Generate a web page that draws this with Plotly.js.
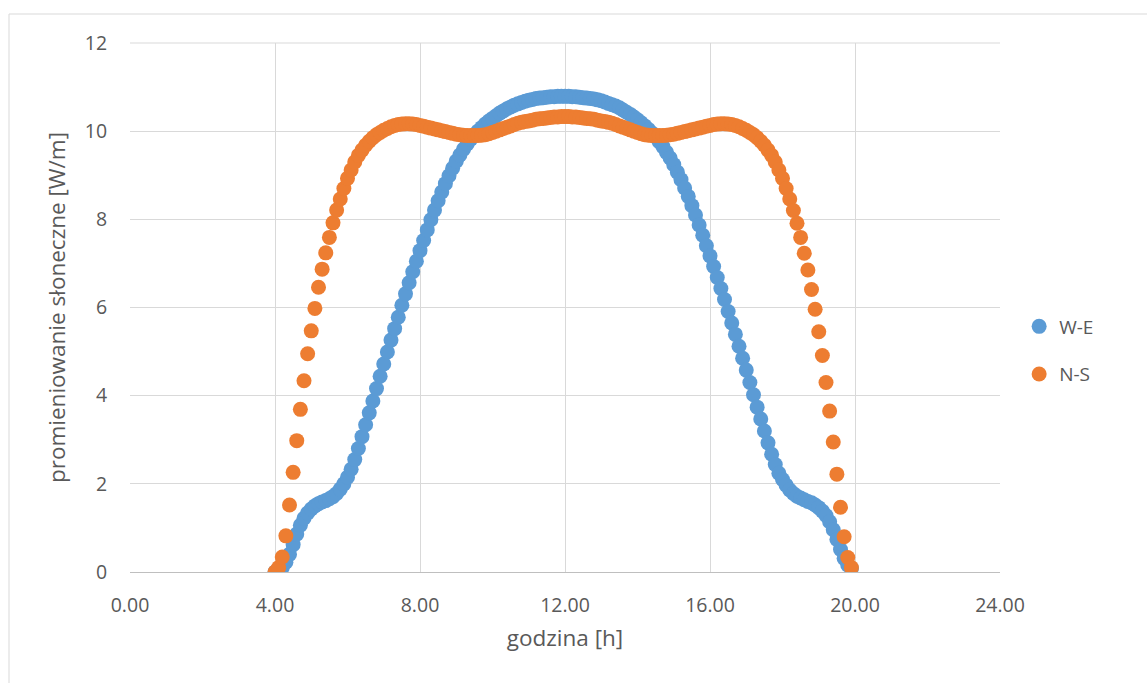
<!DOCTYPE html>
<html>
<head>
<meta charset="utf-8">
<script src="https://cdn.plot.ly/plotly-3.0.1.min.js"></script>
<style>html,body{margin:0;padding:0;background:#fff;}#chart{width:1147px;height:683px;}</style>
</head>
<body>
<div id="chart"></div>
<script>
// godzina [h]
const hours = [
4.0,4.1,4.2,4.3,4.4,4.5,4.6,4.7,4.8,4.9,
5.0,5.1,5.2,5.3,5.4,5.5,5.6,5.7,5.8,5.9,
6.0,6.1,6.2,6.3,6.4,6.5,6.6,6.7,6.8,6.9,
7.0,7.1,7.2,7.3,7.4,7.5,7.6,7.7,7.8,7.9,
8.0,8.1,8.2,8.3,8.4,8.5,8.6,8.7,8.8,8.9,
9.0,9.1,9.2,9.3,9.4,9.5,9.6,9.7,9.8,9.9,
10.0,10.1,10.2,10.3,10.4,10.5,10.6,10.7,10.8,10.9,
11.0,11.1,11.2,11.3,11.4,11.5,11.6,11.7,11.8,11.9,
12.0,12.1,12.2,12.3,12.4,12.5,12.6,12.7,12.8,12.9,
13.0,13.1,13.2,13.3,13.4,13.5,13.6,13.7,13.8,13.9,
14.0,14.1,14.2,14.3,14.4,14.5,14.6,14.7,14.8,14.9,
15.0,15.1,15.2,15.3,15.4,15.5,15.6,15.7,15.8,15.9,
16.0,16.1,16.2,16.3,16.4,16.5,16.6,16.7,16.8,16.9,
17.0,17.1,17.2,17.3,17.4,17.5,17.6,17.7,17.8,17.9,
18.0,18.1,18.2,18.3,18.4,18.5,18.6,18.7,18.8,18.9,
19.0,19.1,19.2,19.3,19.4,19.5,19.6,19.7,19.8,19.9
];

// W-E
const valuesWE = [
0.00,0.03,0.10,0.22,0.40,0.62,0.86,1.06,1.22,1.34,
1.43,1.50,1.55,1.59,1.62,1.66,1.71,1.78,1.88,2.00,
2.15,2.33,2.55,2.80,3.07,3.34,3.61,3.88,4.16,4.44,
4.72,4.99,5.26,5.52,5.78,6.05,6.31,6.56,6.81,7.05,
7.29,7.52,7.76,7.99,8.21,8.42,8.62,8.81,8.99,9.16,
9.32,9.46,9.59,9.71,9.82,9.92,10.00,10.08,10.16,10.23,
10.29,10.35,10.41,10.46,10.51,10.55,10.59,10.62,10.65,10.68,
10.70,10.72,10.74,10.75,10.76,10.77,10.78,10.78,10.79,10.79,
10.79,10.79,10.78,10.78,10.77,10.76,10.75,10.74,10.73,10.71,
10.69,10.66,10.63,10.60,10.57,10.53,10.48,10.43,10.38,10.32,
10.26,10.19,10.12,10.04,9.96,9.87,9.76,9.65,9.52,9.39,
9.24,9.07,8.90,8.71,8.52,8.31,8.10,7.87,7.64,7.40,
7.17,6.93,6.68,6.43,6.18,5.91,5.65,5.39,5.12,4.85,
4.58,4.30,4.02,3.74,3.47,3.20,2.93,2.67,2.44,2.24,
2.10,1.97,1.86,1.78,1.72,1.68,1.64,1.60,1.57,1.52,
1.46,1.38,1.28,1.14,0.96,0.74,0.51,0.31,0.16,0.08
];

// N-S
const valuesNS = [
0.00,0.10,0.34,0.82,1.52,2.26,2.98,3.69,4.34,4.95,
5.47,5.98,6.46,6.87,7.24,7.59,7.92,8.21,8.46,8.70,
8.93,9.12,9.30,9.45,9.57,9.68,9.77,9.85,9.92,9.97,
10.02,10.06,10.10,10.13,10.15,10.16,10.17,10.17,10.16,10.15,
10.13,10.11,10.09,10.07,10.05,10.03,10.01,9.99,9.97,9.95,
9.93,9.92,9.91,9.90,9.90,9.90,9.90,9.91,9.92,9.94,
9.97,10.00,10.03,10.06,10.09,10.12,10.15,10.18,10.20,10.22,
10.23,10.25,10.27,10.28,10.29,10.30,10.31,10.32,10.32,10.33,
10.33,10.33,10.32,10.32,10.31,10.30,10.29,10.28,10.27,10.25,
10.23,10.22,10.20,10.18,10.15,10.12,10.09,10.06,10.03,10.00,
9.97,9.94,9.92,9.91,9.90,9.90,9.90,9.90,9.91,9.92,
9.93,9.95,9.97,9.99,10.01,10.03,10.05,10.07,10.09,10.11,
10.13,10.15,10.16,10.17,10.17,10.16,10.15,10.13,10.10,10.06,
10.02,9.97,9.92,9.85,9.77,9.68,9.57,9.45,9.30,9.12,
8.93,8.70,8.46,8.20,7.91,7.59,7.23,6.85,6.41,5.96,
5.45,4.91,4.30,3.65,2.95,2.22,1.47,0.80,0.33,0.10
];

const seriesNames = ['W-E', 'N-S'];
const colors = ['#5B9BD5', '#ED7D31'];
const xTicks = [0, 4, 8, 12, 16, 20, 24];
const yTicks = [0, 2, 4, 6, 8, 10, 12];

const fontFam = '"Open Sans", "Noto Sans", sans-serif';
const txtColor = '#595959';

const traces = [
  {x: hours, y: valuesWE, name: seriesNames[0], type: 'scatter', mode: 'markers',
   legendgroup: 'a',
   marker: {color: colors[0], size: 15, line: {width: 0}}},
  {x: hours, y: valuesNS, name: seriesNames[1], type: 'scatter', mode: 'markers',
   legendgroup: 'b',
   marker: {color: colors[1], size: 15, line: {width: 0}}}
];

const layout = {
  width: 1147, height: 683,
  margin: {l: 130, r: 147, t: 43, b: 111, pad: 0},
  paper_bgcolor: '#ffffff', plot_bgcolor: '#ffffff',
  font: {family: fontFam, color: txtColor, size: 19},
  showlegend: true,
  legend: {x: 1.022, xanchor: 'left', y: 0.5, yanchor: 'top',
           font: {family: fontFam, size: 19, color: txtColor},
           tracegroupgap: 20, bgcolor: 'rgba(0,0,0,0)'},
  xaxis: {
    range: [0, 24], tickvals: xTicks, tickformat: '.2f',
    showgrid: true, gridcolor: '#d9d9d9', gridwidth: 1,
    zeroline: false, showline: true, linecolor: '#bfbfbf', linewidth: 1,
    ticks: 'outside', ticklen: 16, tickcolor: 'rgba(0,0,0,0)',
    tickfont: {family: fontFam, size: 19.5, color: txtColor},
    title: {text: 'godzina [h]', font: {family: fontFam, size: 22.5, color: txtColor}, standoff: 12},
    fixedrange: true
  },
  yaxis: {
    range: [0, 12], tickvals: yTicks,
    showgrid: true, gridcolor: '#d9d9d9', gridwidth: 1,
    zeroline: false, showline: false,
    ticks: 'outside', ticklen: 18, tickcolor: 'rgba(0,0,0,0)',
    tickfont: {family: fontFam, size: 19.5, color: txtColor},
    title: {text: 'promieniowanie słoneczne [W/m]', font: {family: fontFam, size: 22.5, color: txtColor}, standoff: 12},
    fixedrange: true
  },
  shapes: [
    {type: 'rect', xref: 'paper', yref: 'paper',
     x0: (9 - 130) / 870, x1: (1160 - 130) / 870,
     y0: (572 - 700) / 529, y1: (572 - 14) / 529,
     line: {color: '#d9d9d9', width: 1}, fillcolor: 'rgba(0,0,0,0)', layer: 'below'},
    {type: 'line', xref: 'paper', yref: 'paper', x0: 0, x1: 1, y0: 1, y1: 1,
     line: {color: '#d9d9d9', width: 1}, layer: 'below'}
  ]
};

Plotly.newPlot('chart', traces, layout, {displayModeBar: false, staticPlot: true});
</script>
</body>
</html>
